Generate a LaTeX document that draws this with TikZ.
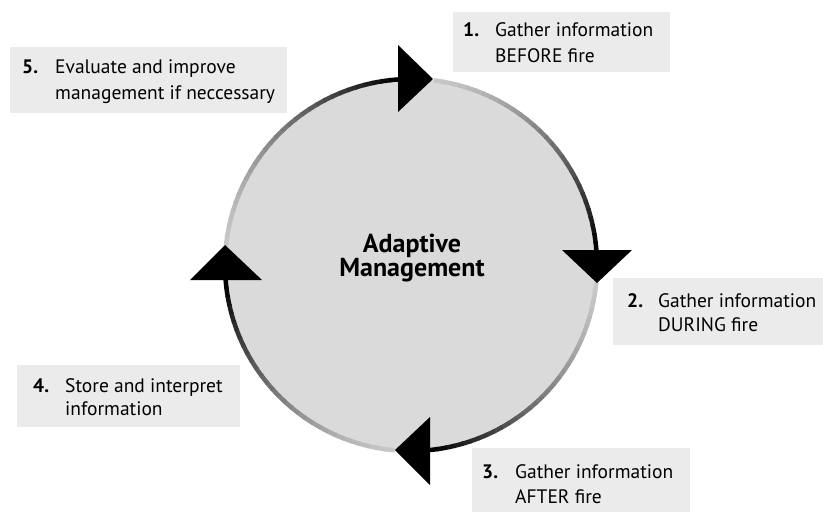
\documentclass[tikz,border=0pt]{standalone}
\usepackage{fontspec}
\setmainfont{PT Sans}
\definecolor{boxgray}{HTML}{EBEBEB}
\definecolor{diskgray}{HTML}{DADADA}
\tikzset{
  box/.style={fill=boxgray, draw=none, anchor=north west, inner sep=0, outer sep=0},
  lbl/.style={anchor=base west, inner sep=0, font=\fontsize{19.5}{22}\selectfont},
  num/.style={anchor=base west, inner sep=0, font=\bfseries\fontsize{19.5}{22}\selectfont},
  ctr/.style={anchor=base, inner sep=0, font=\bfseries\fontsize{26}{28}\selectfont},
  head/.style={fill=black, draw=none}
}
\begin{document}
\begin{tikzpicture}[x=1pt,y=-1pt]
\useasboundingbox (0,0) rectangle (823,512);
\fill[white] (0,0) rectangle (823,512);
% disk
\coordinate (c) at (411,265);
\fill[diskgray] (c) circle (186);
% ring segments fading from gray to black
\foreach \a/\b in {-174/-94, -83/-4.6, 5.5/84.2, 95/175.4} {
  \foreach \i in {0,...,29} {
    \pgfmathsetmacro\sa{\a+(\b-\a)*\i/30}
    \pgfmathsetmacro\ea{\a+(\b-\a)*(\i+1)/30+0.4*sign(\b-\a)}
    \pgfmathsetmacro\p{22+78*(\i/29)^1.4}
    \draw[line width=4.5, black!\p] ([shift={(\sa:186)}]c) arc[start angle=\sa, end angle=\ea, radius=186];
  }
}
% arrowheads
\fill[head] (433,79) -- (398,45) -- (398,112) -- cycle;
\fill[head] (597,283) -- (562,250) -- (632,250) -- cycle;
\fill[head] (395,450) -- (430,417) -- (430,485) -- cycle;
\fill[head] (225,245) -- (190,280) -- (262,280) -- cycle;
% centre text
\node[ctr] (t1) at (412,252) {Adaptive};
\node[ctr] (t2) at (412,276) {Management};
% boxes
\node[box, minimum width=217, minimum height=60] (b1) at (453,12) {};
\node[num] (n1) at (463,36) {1.};
\node[lbl] (l1a) at (495,36) {Gather information};
\node[lbl] (l1b) at (495,62) {BEFORE fire};

\node[box, minimum width=210, minimum height=67] (b2) at (613,278) {};
\node[num] (n2) at (627,307) {2.};
\node[lbl] (l2a) at (658,307) {Gather information};
\node[lbl] (l2b) at (658,331) {DURING fire};

\node[box, minimum width=218, minimum height=64] (b3) at (472,448) {};
\node[num] (n3) at (482,478) {3.};
\node[lbl] (l3a) at (515,478) {Gather information};
\node[lbl] (l3b) at (515,503) {AFTER fire};

\node[box, minimum width=223, minimum height=62] (b4) at (17,365) {};
\node[num] (n4) at (33,392) {4.};
\node[lbl] (l4a) at (65,392) {Store and interpret};
\node[lbl] (l4b) at (65,415) {information};

\node[box, minimum width=277, minimum height=66] (b5) at (10,47) {};
\node[num] (n5) at (22,73) {5.};
\node[lbl] (l5a) at (55,73) {Evaluate and improve};
\node[lbl] (l5b) at (55,99) {management if neccessary};
\end{tikzpicture}
\end{document}
